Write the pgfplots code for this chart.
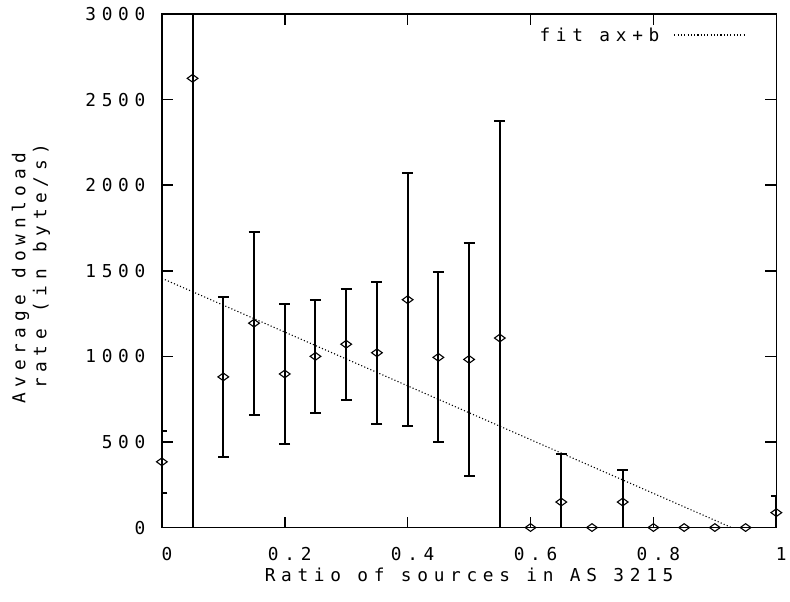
\documentclass[border=0pt]{standalone}
\usepackage{fontspec}
\setmainfont{DejaVu Sans Mono}[LetterSpace=32]
\usepackage{pgfplots}
\pgfplotsset{compat=1.18}
\usepackage{pgfplotstable}

% ratio, mean rate, standard deviation
\pgfplotstableread{
x     y     e
0.00  384   180
0.05  2624  2800
0.10  880   467
0.15  1194  535
0.20  897   410
0.25  1000  330
0.30  1071  325
0.35  1021  415
0.40  1331  740
0.45  994   496
0.50  982   680
0.55  1107  1270
0.60  0     0
0.65  149   278
0.70  0     0
0.75  149   186
0.80  0     0
0.85  0     0
0.90  0     0
0.95  0     0
1.00  87    100
}\ratedata

\begin{document}
\begin{tikzpicture}[font=\fontsize{17.8bp}{21bp}\selectfont]
\begin{axis}[
  scale only axis,
  width=615bp, height=514bp,
  xmin=0, xmax=1, ymin=0, ymax=3000,
  xtick={0,0.2,0.4,0.6,0.8,1},
  ytick={0,500,1000,1500,2000,2500,3000},
  xticklabels={0,0.2,0.4,0.6,0.8,1},
  yticklabels={0,500,1000,1500,2000,2500,3000},
  scaled ticks=false,
  /pgf/number format/assume math mode=true,
  tick align=inside,
  major tick length=11bp,
  minor tick num=0,
  axis line style={line width=1.6bp},
  every tick/.style={black, line width=1.6bp},
  xticklabel style={yshift=-16bp, xshift=5bp},
  yticklabel style={xshift=-13bp},
  xlabel={Ratio of sources in AS 3215},
  ylabel={Average download\rule{24bp}{0pt}\\rate (in byte/s)},
  every axis x label/.style={at={(axis description cs:0.5,-0.093)}, anchor=center},
  every axis y label/.style={at={(axis description cs:-0.213,0.509)}, anchor=center, rotate=90, align=center},
]
\addplot[forget plot, black, line width=2bp, only marks,
  mark=diamond, mark size=5.5bp,
  mark options={line width=1.1bp, xscale=1.3, yscale=0.7},
  error bars/.cd, y dir=both, y explicit,
  error mark options={black, line width=2bp, mark size=5.5bp, rotate=90},
  error bar style={black, line width=2bp}]
  table[x=x, y=y, y error=e] {\ratedata};
% least-squares line through the means
\addplot[forget plot, black, line width=1.1bp, dash pattern=on 1.1bp off 2.2bp]
  coordinates {(0,1456) (0.927,0)};
% key, written text first and sample after it
\node[anchor=east, inner sep=0pt] at (axis description cs:0.81,0.959) {fit ax+b};
\draw[black, line width=1.1bp, dash pattern=on 1.1bp off 2.2bp]
  (axis description cs:0.834,0.959) -- (axis description cs:0.951,0.959);
\end{axis}
\path[use as bounding box] ([xshift=-162bp,yshift=-74bp]current axis.south west) rectangle ([xshift=13bp,yshift=14bp]current axis.north east);
\end{tikzpicture}
\end{document}
